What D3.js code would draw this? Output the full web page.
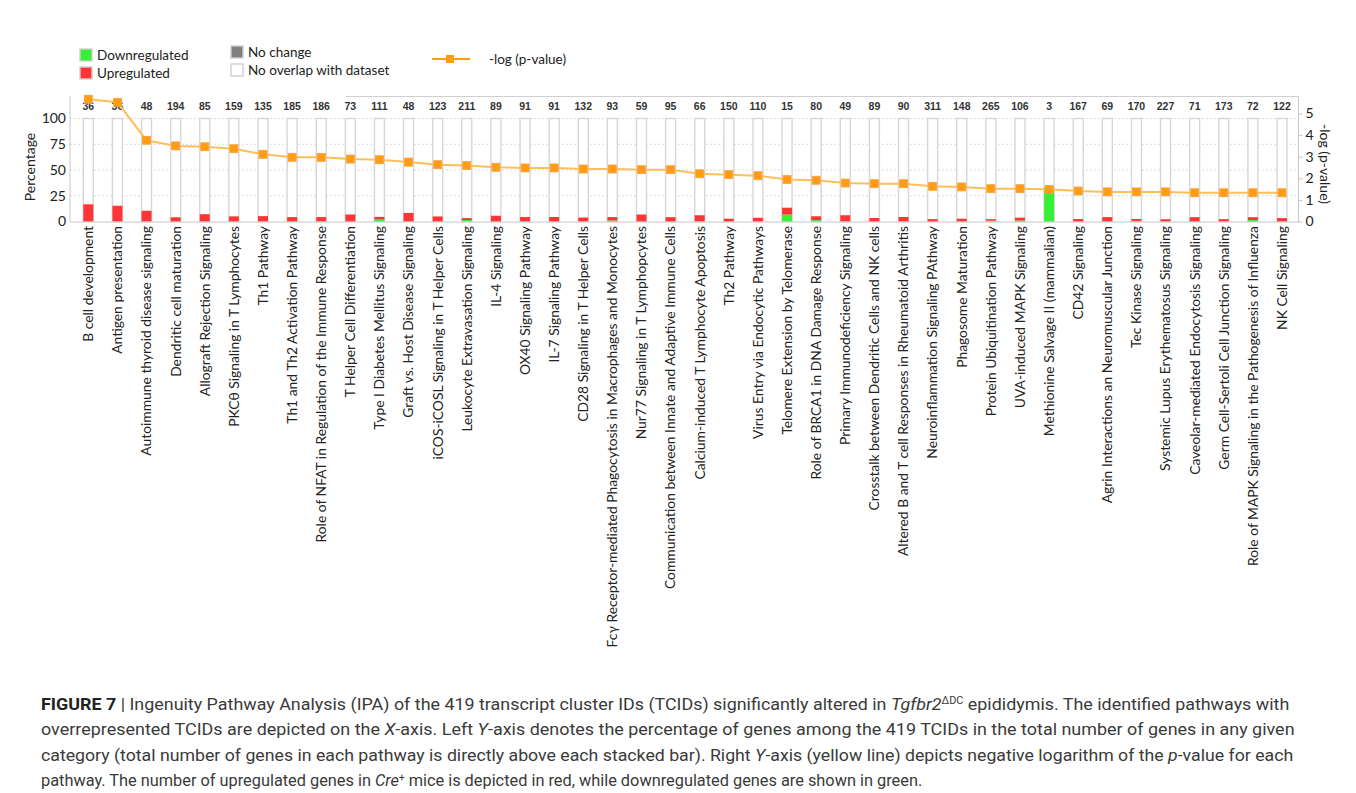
<!DOCTYPE html>
<html>
<head>
<meta charset="utf-8">
<script src="https://cdn.jsdelivr.net/npm/d3@7"></script>
<style>
  body { margin: 0; background: #fff; }
  svg { display: block; }
</style>
</head>
<body>
<svg id="chart" width="1356" height="793"></svg>
<script>
// IPA canonical pathways, ordered by significance
const categories = [
  "B cell development", "Antigen presentation", "Autoimmune thyroid disease signaling",
  "Dendritic cell maturation", "Allograft Rejection Signaling", "PKCθ Signaling in T Lymphocytes",
  "Th1 Pathway", "Th1 and Th2 Activation Pathway", "Role of NFAT in Regulation of  the Immune Response",
  "T Helper Cell Differentiation", "Type I Diabetes Mellitus Signaling", "Graft vs. Host Disease Signaling",
  "iCOS-iCOSL Signaling in T Helper Cells", "Leukocyte Extravasation Signaling", "IL-4 Signaling",
  "OX40 Signaling Pathway", "IL-7 Signaling Pathway", "CD28 Signaling in T Helper Cells",
  "Fcγ Receptor-mediated Phagocytosis in Macrophages and Monocytes", "Nur77 Signaling in T Lymphopcytes",
  "Communication between Innate and Adaptive Immune Cells", "Calcium-induced T Lymphocyte Apoptosis",
  "Th2 Pathway", "Virus Entry via Endocytic Pathways", "Telomere Extension by Telomerase",
  "Role of BRCA1 in DNA Damage Response", "Primary Immunodeficiency Signaling",
  "Crosstalk between Dendritic Cells and NK cells", "Altered B and T cell Responses in Rheumatoid Arthritis",
  "Neuroinflammation Signaling PAthway", "Phagosome Maturation", "Protein Ubiquitination Pathway",
  "UVA-induced MAPK Signaling", "Methionine Salvage II (mammalian)", "CD42 Signaling",
  "Agrin Interactions an Neuromuscular Junction", "Tec Kinase Signaling",
  "Systemic Lupus Erythematosus Signaling", "Caveolar-mediated Endocytosis Signaling",
  "Germ Cell-Sertoli Cell Junction Signaling", "Role of MAPK Signaling in the Pathogenesis of Influenza",
  "NK Cell Signaling"
];

// total number of genes in each pathway (printed above each bar)
const totalGenes = [36, 36, 48, 194, 85, 159, 135, 185, 186, 73, 111, 48, 123, 211,
  89, 91, 91, 132, 93, 59, 95, 66, 150, 110, 15, 80, 49, 89,
  90, 311, 148, 265, 106, 3, 167, 69, 170, 227, 71, 173, 72, 122];

// percentage of pathway genes that are downregulated (green)
const downPct = [0, 0, 0, 0, 0, 0, 0, 0, 0, 0, 1.8, 0, 0, 1.4,
  0, 0, 0, 0, 1.1, 0, 0, 0, 0, 0, 6.7, 1.3, 0, 0,
  0, 0, 0, 0.8, 0.9, 33.3, 0, 0, 0.6, 0, 0, 0, 1.4, 0];

// percentage of pathway genes that are upregulated (red)
const upPct = [16.7, 15.3, 10.4, 4.1, 7.1, 5.0, 5.2, 4.3, 4.3, 6.8, 2.7, 8.3, 4.9, 1.9,
  5.6, 4.4, 4.4, 3.8, 3.2, 6.8, 4.2, 6.1, 2.7, 3.6, 6.7, 3.8, 6.1, 3.4,
  4.4, 2.3, 2.7, 1.5, 2.8, 0, 2.4, 4.3, 1.8, 2.2, 4.2, 2.3, 2.8, 3.3];

// -log(p-value) for each pathway
const negLogP = [5.66, 5.52, 3.76, 3.50, 3.46, 3.37, 3.11, 2.97, 2.97, 2.89, 2.86, 2.75, 2.63, 2.59,
  2.51, 2.48, 2.48, 2.43, 2.43, 2.40, 2.40, 2.21, 2.17, 2.12, 1.94, 1.91, 1.78, 1.75,
  1.75, 1.63, 1.60, 1.52, 1.52, 1.49, 1.41, 1.37, 1.37, 1.37, 1.33, 1.33, 1.33, 1.33];

const percentTicks = [0, 25, 50, 75, 100];
const gridTicks = [25, 50, 75, 100];
const pTicks = [0, 1, 2, 3, 4, 5];

const COLORS = {
  up: "#ff3535",
  down: "#35f035",
  noChange: "#808080",
  outline: "#d6d6d6",
  line: "#fcbf5a",
  marker: "#ff9c13",
  text: "#222"
};
const chartFont = "Lato, 'Open Sans', sans-serif";

const svg = d3.select("#chart");

// plot geometry
const plot = { left: 70, right: 1298.5, top: 96.5, bottom: 221.5 };

const x = d3.scalePoint().domain(categories).range([88.3, 1282]);
const yPct = d3.scaleLinear().domain([0, 100]).range([plot.bottom, 118.5]);
const yP = d3.scaleLinear().domain([0, 5]).range([plot.bottom, 113.5]);
const barW = 10;

const rows = categories.map((c, i) => ({
  name: c, total: totalGenes[i], down: downPct[i], up: upPct[i], p: negLogP[i]
}));

// ---- frame and gridlines ----
const g = svg.append("g");

g.append("g").selectAll("line").data(gridTicks).join("line")
  .attr("x1", plot.left).attr("x2", plot.right)
  .attr("y1", d => yPct(d)).attr("y2", d => yPct(d))
  .attr("stroke", "#dcdcdc").attr("stroke-width", 1)
  .attr("stroke-dasharray", "2,2");

g.append("line")
  .attr("x1", 346).attr("x2", plot.right)
  .attr("y1", plot.top).attr("y2", plot.top)
  .attr("stroke", "#d0d0d0").attr("stroke-width", 1.2);

// ---- bars ----
const bars = g.append("g").selectAll("g").data(rows).join("g")
  .attr("transform", d => `translate(${x(d.name) - barW / 2},0)`);

bars.append("rect")
  .attr("x", 0).attr("width", barW)
  .attr("y", yPct(100)).attr("height", yPct(0) - yPct(100))
  .attr("fill", "#fff").attr("stroke", COLORS.outline).attr("stroke-width", 1.4);

bars.filter(d => d.down > 0).append("rect")
  .attr("x", 0).attr("width", barW)
  .attr("y", d => yPct(d.down)).attr("height", d => yPct(0) - yPct(d.down))
  .attr("fill", COLORS.down);

bars.filter(d => d.up > 0).append("rect")
  .attr("x", 0).attr("width", barW)
  .attr("y", d => yPct(d.down + d.up)).attr("height", d => yPct(d.down) - yPct(d.down + d.up))
  .attr("fill", COLORS.up);

// gene totals above bars
g.append("g").selectAll("text").data(rows).join("text")
  .attr("x", d => x(d.name)).attr("y", 110)
  .attr("text-anchor", "middle")
  .attr("font-family", "'Liberation Sans', Arial, sans-serif")
  .attr("font-weight", "bold").attr("font-size", 10.5)
  .attr("fill", "#333")
  .text(d => d.total);

// ---- axes ----
const leftAxis = d3.axisLeft(yPct).tickValues(percentTicks).tickSize(0).tickPadding(4);
const la = g.append("g").attr("transform", `translate(${plot.left},0)`).call(leftAxis);
la.select(".domain").attr("stroke", "#c8c8c8").attr("d", `M0,${plot.top}V${plot.bottom}`);
la.selectAll("text").attr("font-family", chartFont).attr("font-size", 14).attr("fill", COLORS.text);

// baseline
g.append("line")
  .attr("x1", plot.left).attr("x2", plot.right)
  .attr("y1", plot.bottom + 0.5).attr("y2", plot.bottom + 0.5)
  .attr("stroke", "#c8c8c8").attr("stroke-width", 1.2);

const rightAxis = d3.axisRight(yP).tickValues(pTicks).tickFormat(d3.format("d"))
  .tickSize(4).tickPadding(3);
const ra = g.append("g").attr("transform", `translate(${plot.right},0)`).call(rightAxis);
ra.select(".domain").attr("stroke", "#c8c8c8").attr("d", `M0,${plot.top}V${plot.bottom + 1}`);
ra.selectAll(".tick line").attr("stroke", "#c8c8c8");
ra.selectAll("text").attr("font-family", chartFont).attr("font-size", 14).attr("fill", COLORS.text);

// axis titles
g.append("text")
  .attr("transform", "translate(35,167) rotate(-90)")
  .attr("text-anchor", "middle")
  .attr("font-family", chartFont).attr("font-size", 14).attr("fill", COLORS.text)
  .text("Percentage");

g.append("text")
  .attr("transform", "translate(1320,164) rotate(90)")
  .attr("text-anchor", "middle")
  .attr("font-family", chartFont).attr("font-size", 14).attr("fill", COLORS.text)
  .text("-log (p-value)");

// category labels
g.append("g").selectAll("text").data(rows).join("text")
  .attr("transform", d => `translate(${x(d.name)},226) rotate(-90)`)
  .attr("text-anchor", "end").attr("dy", "0.35em")
  .attr("font-family", chartFont).attr("font-size", 13.85).attr("fill", COLORS.text)
  .text(d => d.name);

// ---- -log(p) line ----
const line = d3.line().x(d => x(d.name)).y(d => yP(d.p));
g.append("path").datum(rows)
  .attr("d", line).attr("fill", "none")
  .attr("stroke", COLORS.line).attr("stroke-width", 2);

g.append("g").selectAll("rect").data(rows).join("rect")
  .attr("x", d => x(d.name) - 4).attr("y", d => yP(d.p) - 4)
  .attr("width", 8).attr("height", 8)
  .attr("fill", COLORS.marker).attr("stroke", "#f7a43a").attr("stroke-width", 0.8);

// ---- legend ----
const legend = svg.append("g").attr("font-family", chartFont).attr("font-size", 13.5).attr("fill", COLORS.text);
const legendItems = [
  { label: "Downregulated", fill: COLORS.down, x: 80, y: 49 },
  { label: "Upregulated", fill: COLORS.up, x: 80, y: 67 },
  { label: "No change", fill: COLORS.noChange, x: 231, y: 46 },
  { label: "No overlap with dataset", fill: "#fff", x: 231, y: 64 }
];
const li = legend.selectAll("g").data(legendItems).join("g")
  .attr("transform", d => `translate(${d.x},${d.y})`);
li.append("rect").attr("width", 12).attr("height", 12)
  .attr("fill", d => d.fill).attr("stroke", "#cfcfcf").attr("stroke-width", 1.4);
li.append("text").attr("x", 17).attr("y", 6).attr("dy", "0.35em").text(d => d.label);

legend.append("line").attr("x1", 432).attr("x2", 470).attr("y1", 59).attr("y2", 59)
  .attr("stroke", COLORS.marker).attr("stroke-width", 2);
legend.append("rect").attr("x", 446).attr("y", 55).attr("width", 8).attr("height", 8)
  .attr("fill", COLORS.marker);
legend.append("text").attr("x", 489).attr("y", 59).attr("dy", "0.35em").text("-log (p-value)");

// ---- caption ----
const captionLines = [
  [{ t: "FIGURE 7", b: true }, { t: " | Ingenuity Pathway Analysis (IPA) of the 419 transcript cluster IDs (TCIDs) significantly altered in " },
   { t: "Tgfbr2", i: true }, { t: "ΔDC", sup: true }, { t: " epididymis. The identified pathways with" }],
  [{ t: "overrepresented TCIDs are depicted on the " }, { t: "X", i: true }, { t: "-axis. Left " }, { t: "Y", i: true },
   { t: "-axis denotes the percentage of genes among the 419 TCIDs in the total number of genes in any given" }],
  [{ t: "category (total number of genes in each pathway is directly above each stacked bar). Right " }, { t: "Y", i: true },
   { t: "-axis (yellow line) depicts negative logarithm of the " }, { t: "p", i: true }, { t: "-value for each" }],
  [{ t: "pathway. The number of upregulated genes in " }, { t: "Cre", i: true }, { t: "+", sup: true },
   { t: " mice is depicted in red, while downregulated genes are shown in green." }]
];
const captionBaselines = [709.5, 735, 760.5, 786];
const captionWidths = [1249, 1254, 1253, 882];

const cap = svg.append("g")
  .attr("font-family", "'Liberation Sans Narrow', 'Roboto', 'Liberation Sans', sans-serif")
  .attr("font-size", 16.5).attr("fill", "#3a3a3a");

captionLines.forEach((parts, li) => {
  const t = cap.append("text").attr("x", 0).attr("y", 0);
  parts.forEach(p => {
    const s = t.append("tspan").text(p.t);
    if (p.b) s.attr("font-weight", "bold").attr("fill", "#222");
    if (p.i) s.attr("font-style", "italic");
    if (p.sup) s.attr("font-size", 10).attr("baseline-shift", "super");
  });
  const w = t.node().getComputedTextLength();
  const sx = captionWidths[li] / w;
  t.attr("transform", `translate(41,${captionBaselines[li]}) scale(${sx},1)`);
});
</script>
</body>
</html>
